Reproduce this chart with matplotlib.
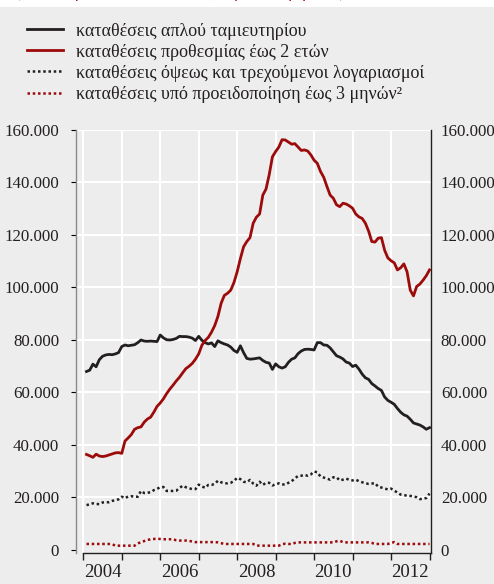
import matplotlib
matplotlib.use("Agg")
import matplotlib.pyplot as plt
import matplotlib.patches as mpatches
import numpy as np
import pandas as pd

# ---------------- data (million euro, monthly, Jan 2004 - Dec 2012) ----------------
months = pd.date_range("2004-01-31", "2012-12-31", freq="ME")

savings = [68000, 68500, 70800, 69800, 72500, 73800, 74300, 74500, 74400, 74700, 75200, 77500,
           78100, 77800, 78000, 78200, 79000, 80000, 79600, 79500, 79600, 79500, 79400, 81900,
           80800, 80100, 80000, 80200, 80600, 81400, 81300, 81300, 81100, 80700, 79800, 81400,
           79900, 79000, 78500, 78900, 77500, 79700, 79000, 78500, 78100, 77300, 76000, 75300,
           77800, 75200, 73000, 72700, 72800, 73000, 73200, 72200, 71500, 71200, 68800, 70900,
           69800, 69300, 69800, 71500, 72700, 73200, 74800, 75800, 76400, 76500, 76400, 76200,
           79000, 79000, 78100, 78000, 77000, 75500, 74000, 73500, 72800, 71600, 71200, 69900,
           70400, 68900, 67000, 65600, 65000, 63400, 62500, 61500, 60800, 58300, 57000, 56300,
           55500, 53900, 52500, 51500, 51000, 49800, 48400, 48000, 47600, 46900, 46000, 46600]

time_dep = [36400, 35900, 35300, 36500, 35800, 35600, 35800, 36200, 36600, 37000, 37100, 36800,
            41500, 42700, 44000, 46000, 46600, 46900, 48700, 49900, 50600, 52500, 54700, 56000,
            57600, 59600, 61300, 62800, 64400, 65800, 67500, 69100, 70000, 71100, 72700, 74700,
            78000, 79800, 81000, 83000, 85500, 89000, 94000, 97000, 97800, 99000, 101900, 106000,
            111000, 115500, 117500, 119000, 124500, 126800, 128000, 135200, 137500, 143000, 149800, 151800,
            153500, 156300, 156200, 155400, 154600, 154800, 153500, 152200, 152400, 152000, 150500, 148500,
            147300, 144200, 142000, 138500, 135200, 134000, 131500, 130800, 132100, 131800, 131100, 130200,
            128000, 126900, 126300, 124500, 121500, 117500, 117300, 118800, 119000, 114200, 111300, 110200,
            109400, 106700, 107500, 109000, 106000, 99000, 96800, 100400, 101300, 102800, 104500, 106700]

sight = [17100, 17400, 17800, 17500, 17500, 18100, 18200, 18200, 18700, 19000, 19300, 20300,
         19700, 20400, 20500, 20300, 20300, 22500, 21700, 21800, 22000, 22800, 23300, 23900,
         24000, 22500, 22500, 22500, 22600, 23600, 24500, 23900, 23500, 23200, 23200, 24900,
         24200, 23700, 24800, 24800, 25200, 26400, 25800, 25400, 25400, 25600, 26300, 27500,
         27000, 26000, 25800, 26700, 25300, 24500, 26000, 24800, 25600, 25600, 24600, 25000,
         25400, 25000, 24900, 25600, 26200, 27300, 28200, 28300, 28600, 28300, 28800, 29900,
         29600, 28000, 27600, 27200, 26800, 27700, 27700, 26500, 26800, 27200, 26700, 26500,
         26800, 26200, 25800, 25400, 25200, 25300, 25500, 24100, 23800, 23400, 23100, 23400,
         22600, 21900, 21100, 20900, 20700, 20600, 20400, 20100, 19400, 19500, 19800, 21500]

notice = [2300, 2300, 2300, 2300, 2300, 2300, 2300, 2300, 2200, 1650, 1650, 1650,
          1650, 1650, 1650, 1650, 2500, 3000, 3400, 3800, 4100, 4200, 4300, 4200,
          4100, 4100, 4100, 4100, 3700, 3600, 3600, 3600, 3500, 3200, 3000, 3000,
          3000, 3000, 3000, 3000, 3000, 2900, 2600, 2300, 2300, 2300, 2300, 2300,
          2300, 2300, 2300, 2300, 2300, 1700, 1650, 1650, 1650, 1650, 1650, 1650,
          1650, 2200, 2400, 2300, 2300, 2700, 2900, 2900, 2900, 2900, 2900, 2900,
          2900, 2900, 2900, 2900, 2900, 2900, 3300, 3500, 3000, 2900, 2900, 2900,
          2900, 2900, 2900, 2900, 2900, 2700, 2300, 2300, 2300, 2300, 2300, 2700,
          3000, 2300, 2300, 2300, 2300, 2300, 2300, 2300, 2300, 2300, 2300, 2300]

labels = ["καταθέσεις απλού ταμιευτηρίου",
          "καταθέσεις προθεσμίας έως 2 ετών",
          "καταθέσεις όψεως και τρεχούμενοι λογαριασμοί",
          "καταθέσεις υπό προειδοποίηση έως 3 μηνών²"]

year_labels = ["2004", "2006", "2008", "2010", "2012"]
yticks = [0, 20000, 40000, 60000, 80000, 100000, 120000, 140000, 160000]

# ---------------- style ----------------
plt.rcParams['font.family'] = ['Liberation Serif', 'DejaVu Serif']
BG = '#ededed'
BLACK = '#231f20'
RED = '#9c0a0a'

W, H = 494, 584
fig = plt.figure(figsize=(W / 100, H / 100), dpi=100, facecolor=BG)

# white band at top with clipped red subtitle
fig.patches.append(mpatches.Rectangle((0, 1 - 7 / H), 1, 7 / H, transform=fig.transFigure,
                                      facecolor='white', edgecolor='none', zorder=0))
fig.text(15 / W, 1 + 2.5 / H, "(εκατ. ευρώ, υπόλοιπα τέλους περιόδου, μηνιαία)",
         color=RED, fontsize=12, va='baseline', ha='left')

ax = fig.add_axes([76 / W, 1 - 553 / H, 355 / W, 423 / H], facecolor=BG)

xs = np.array([m.year + m.month / 12 for m in months])

l1, = ax.plot(xs, savings, color=BLACK, lw=2.0, solid_joinstyle='round', zorder=3)
l2, = ax.plot(xs, time_dep, color=RED, lw=2.0, solid_joinstyle='round', zorder=3)
l3, = ax.plot(xs, sight, color=BLACK, lw=1.8, linestyle=(0, (1, 1.1)), dash_capstyle='butt', zorder=3)
l4, = ax.plot(xs, notice, color=RED, lw=1.8, linestyle=(0, (1, 1.1)), dash_capstyle='butt', zorder=3)

x0 = 2004 - 7.3 / 38.47
x1 = 2013 + 1.5 / 38.47
ax.set_xlim(x0, x1)
ax.set_ylim(-1143, 160000)

# grid
for y in yticks[1:]:
    ax.axhline(y, color='white', lw=1.5, zorder=1)
for yr in range(2004, 2013):
    ax.axvline(yr, color='white', lw=1.5, zorder=1)

# spines
ax.spines['top'].set_visible(False)
ax.spines['left'].set_color('#8a8a8a')
ax.spines['left'].set_linewidth(1.0)
ax.spines['right'].set_color(BLACK)
ax.spines['right'].set_linewidth(1.0)
ax.spines['bottom'].set_color(BLACK)
ax.spines['bottom'].set_linewidth(1.0)
ax.spines['bottom'].set_bounds(2003.98, x1)

# x ticks: major at year boundaries (marks), minor labels at mid-year
ax.set_xticks(list(range(2004, 2014)))
ax.set_xticklabels([])
ax.tick_params(axis='x', which='major', direction='out', length=5, width=1, color=BLACK)
ax.set_xticks([int(y) + 0.5 for y in year_labels], minor=True)
ax.set_xticklabels(year_labels, minor=True)
ax.tick_params(axis='x', which='minor', length=0, pad=8, labelsize=13.5, labelcolor=BLACK)

# y ticks left
fmt = [f"{v:,.0f}".replace(",", ".") for v in yticks]
ax.set_yticks(yticks)
ax.set_yticklabels(fmt)
ax.tick_params(axis='y', left=False, right=False, pad=12 * 0.72, labelsize=12.2, labelcolor=BLACK)

# y ticks right
ax2 = ax.twinx()
ax2.set_ylim(ax.get_ylim())
ax2.set_yticks(yticks)
ax2.set_yticklabels(fmt)
ax2.tick_params(axis='y', right=False, left=False, pad=5 * 0.72, labelsize=12.2, labelcolor=BLACK)
for s in ax2.spines.values():
    s.set_visible(False)

# legend
fig.legend([l1, l2, l3, l4], labels, loc='upper left', bbox_to_anchor=(27 / W, 1 - 22.5 / H),
           frameon=False, fontsize=13, handlelength=2.0, handletextpad=0.72,
           labelspacing=0.23, borderpad=0, borderaxespad=0, labelcolor=BLACK)

fig.savefig("out.png", dpi=100, facecolor=BG)
